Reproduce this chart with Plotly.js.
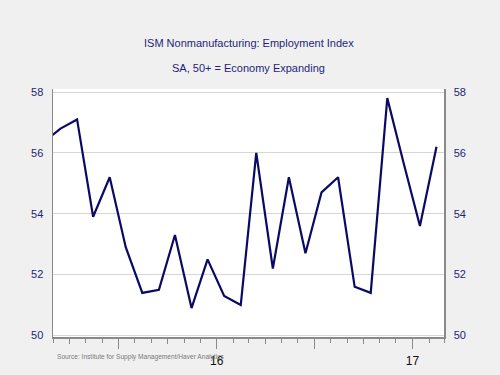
<!DOCTYPE html>
<html>
<head>
<meta charset="utf-8">
<script src="https://cdn.plot.ly/plotly-3.0.1.min.js"></script>
<style>
html,body{margin:0;padding:0;background:#f0f0f0;}
#chart{width:500px;height:375px;}
</style>
</head>
<body>
<div id="chart"></div>
<script>
// Monthly data (mid-month), Feb 2015 - Feb 2017
const months = ["2015-02-15","2015-03-15","2015-04-15","2015-05-15","2015-06-15","2015-07-15",
  "2015-08-15","2015-09-15","2015-10-15","2015-11-15","2015-12-15","2016-01-15",
  "2016-02-15","2016-03-15","2016-04-15","2016-05-15","2016-06-15","2016-07-15",
  "2016-08-15","2016-09-15","2016-10-15","2016-11-15","2016-12-15","2017-01-15","2017-02-15"];
const employmentIndex = [56.4,56.8,57.1,53.9,55.2,52.9,
  51.4,51.5,53.3,50.9,52.5,51.3,
  51.0,56.0,52.2,55.2,52.7,54.7,
  55.2,51.6,51.4,57.8,55.7,53.6,56.2];
const majorTickVals = ["2015-07-01","2016-01-01","2016-07-01","2017-01-01"];
const majorTickText = ["","16","","17"];
const quarterTickVals = ["2015-04-01","2015-10-01","2016-04-01","2016-10-01"];
const yTickVals = [50,52,54,56,58];

const titleText = "ISM Nonmanufacturing: Employment Index";
const subtitleText = "SA, 50+ = Economy Expanding";
const sourceText = "Source: Institute for Supply Management/Haver Analytics";

const navy = "#1f1f78";
const xRange = ["2015-03-01","2017-03-01"];
const yRange = [49.95, 58.1];

const traces = [
  {x: months, y: employmentIndex, type: "scatter", mode: "lines",
   line: {color: "#0a0a64", width: 2.2}, xaxis: "x", yaxis: "y", hoverinfo: "skip"},
  {x: months, y: employmentIndex, type: "scatter", mode: "lines",
   line: {color: "rgba(0,0,0,0)", width: 0}, xaxis: "x2", yaxis: "y2", hoverinfo: "skip", showlegend: false}
];

const layout = {
  width: 500, height: 375,
  paper_bgcolor: "#f0f0f0",
  plot_bgcolor: "#ffffff",
  showlegend: false,
  margin: {l: 53, r: 56, t: 89, b: 38},
  font: {family: "Liberation Sans, Arial, sans-serif"},
  xaxis: {
    type: "date", range: xRange,
    tickvals: majorTickVals, ticktext: majorTickText,
    ticks: "outside", ticklen: 10, tickcolor: "#8a8a8a", tickwidth: 1,
    minor: {dtick: "M1", tick0: "2015-01-01", ticks: "outside", ticklen: 4, tickcolor: "#8a8a8a", showgrid: false},
    showgrid: false, zeroline: false,
    showline: true, linecolor: "#8a8a8a", linewidth: 1.5,
    tickfont: {size: 12, color: "#111111"},
    ticklabelstandoff: 2
  },
  xaxis2: {
    type: "date", range: xRange, overlaying: "x", anchor: "y",
    tickvals: quarterTickVals, ticks: "outside", ticklen: 6, tickcolor: "#8a8a8a",
    showticklabels: false, showgrid: false, zeroline: false, showline: false
  },
  yaxis: {
    range: yRange, tickvals: yTickVals,
    showgrid: true, gridcolor: "#d6d6d6", gridwidth: 1,
    zeroline: false, showline: true, linecolor: "#8a8a8a", linewidth: 1.5,
    ticks: "", tickfont: {size: 11, color: navy}, ticklabelstandoff: 6
  },
  yaxis2: {
    range: yRange, tickvals: yTickVals, overlaying: "y", side: "right", anchor: "x",
    showgrid: false, zeroline: false, showline: true, linecolor: "#8a8a8a", linewidth: 1.5,
    ticks: "", tickfont: {size: 11, color: navy}, ticklabelstandoff: 6
  },
  annotations: [
    {text: titleText, xref: "paper", yref: "paper", x: 0.5, y: 1.1855,
     xanchor: "center", yanchor: "middle", showarrow: false,
     font: {size: 11, color: navy}},
    {text: subtitleText, xref: "paper", yref: "paper", x: 0.5, y: 1.0847,
     xanchor: "center", yanchor: "middle", showarrow: false,
     font: {size: 11, color: navy}},
    {text: sourceText, xref: "paper", yref: "paper", x: 0.005, y: -0.0806,
     xanchor: "left", yanchor: "middle", showarrow: false,
     font: {size: 6.6, color: "#7a7a7a"}}
  ]
};

Plotly.newPlot("chart", traces, layout, {staticPlot: true, displayModeBar: false});
</script>
</body>
</html>
